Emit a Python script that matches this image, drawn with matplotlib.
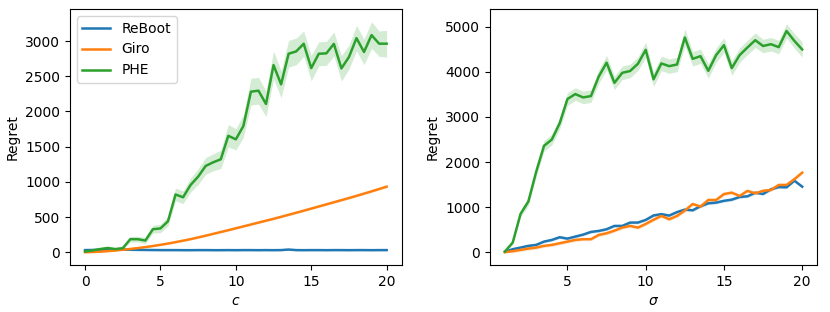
import numpy as np
import matplotlib
matplotlib.use("Agg")
import matplotlib.pyplot as plt

# ---------------- left panel data (x = c) ----------------
c_vals = [i * 0.5 for i in range(41)]
left_reboot = [30, 32, 35, 38, 40, 38, 35, 33, 32, 31, 30, 30, 30, 29, 29, 30, 30, 29, 29, 30,
               29, 30, 30, 29, 30, 29, 30, 38, 30, 29, 30, 30, 29, 30, 30, 29, 30, 30, 29, 30, 30]
left_reboot_err = [8] * 41
left_giro = [0, 3, 8, 15, 24, 35, 46, 59, 73, 88, 105, 123, 143, 164, 186, 210, 235, 261, 287, 313,
             340, 367, 394, 421, 448, 475, 503, 532, 561, 590, 620, 650, 680, 710, 740, 770, 801,
             833, 865, 898, 932]
left_giro_err = [3, 4, 5, 6, 6, 7, 7, 8, 8, 8, 9, 9, 9, 10, 10, 10, 10, 11, 11, 11,
                 12, 12, 12, 12, 13, 13, 13, 13, 14, 14, 14, 14, 15, 15, 15, 15, 16, 16, 16, 16, 17]
left_phe = [10, 25, 45, 60, 45, 57, 185, 185, 166, 327, 338, 440, 820, 781, 956, 1074, 1226, 1278,
            1320, 1654, 1604, 1793, 2281, 2295, 2106, 2659, 2385, 2820, 2853, 2962, 2616, 2820,
            2825, 2960, 2612, 2773, 3042, 2845, 3085, 2963, 2963]
left_phe_err = [5, 15, 20, 25, 20, 25, 40, 40, 45, 55, 60, 70, 90, 90, 100, 110, 120, 120, 130, 160,
                150, 160, 190, 190, 180, 200, 190, 190, 190, 180, 180, 170, 170, 170, 180, 170,
                180, 180, 190, 180, 190]

# ---------------- right panel data (x = sigma) ----------------
s_vals = [1 + i * 0.5 for i in range(39)]
right_reboot = [10, 66, 102, 140, 162, 235, 272, 332, 301, 346, 390, 450, 472, 509, 583, 583, 657,
                657, 716, 815, 845, 812, 890, 945, 930, 1019, 1085, 1100, 1140, 1166, 1225, 1240,
                1320, 1292, 1396, 1445, 1440, 1587, 1454]
right_reboot_err = [5] + [30] * 38
right_giro = [0, 22, 51, 80, 102, 140, 162, 199, 235, 272, 288, 288, 383, 420, 479, 546, 583, 546,
              627, 720, 805, 731, 805, 923, 1070, 1012, 1159, 1159, 1290, 1322, 1248, 1360, 1307,
              1362, 1381, 1492, 1492, 1620, 1765]
right_giro_err = [5] + [35] * 38
right_phe = [13, 213, 850, 1125, 1786, 2360, 2500, 2860, 3400, 3508, 3434, 3464, 3900, 4205, 3758,
             3980, 4020, 4180, 4490, 3836, 4188, 4128, 4165, 4764, 4290, 4350, 4024, 4372, 4593,
             4085, 4372, 4542, 4704, 4575, 4615, 4550, 4908, 4689, 4498]
right_phe_err = [10, 40, 70, 90, 110, 120, 120, 130, 140, 140, 140, 140, 150, 160, 150, 150, 150,
                 150, 170, 160, 160, 160, 160, 190, 160, 160, 160, 160, 160, 160, 160, 160, 160,
                 150, 150, 150, 160, 160, 170]

series_names = ["ReBoot", "Giro", "PHE"]
colors = ["#1f77b4", "#ff7f0e", "#2ca02c"]

fig = plt.figure(figsize=(8.3, 3.12), dpi=100)
ax1 = fig.add_axes([0.0843, 0.151, 0.3997, 0.820])
ax2 = fig.add_axes([0.5904, 0.151, 0.3940, 0.820])


def draw(ax, x, ys, errs):
    x = np.asarray(x)
    for name, col, y, e in zip(series_names, colors, ys, errs):
        y = np.asarray(y, float)
        e = np.asarray(e, float)
        ax.fill_between(x, y - e, y + e, color=col, alpha=0.2, linewidth=0)
        ax.plot(x, y, color=col, linewidth=1.8, label=name)


draw(ax1, c_vals, [left_reboot, left_giro, left_phe],
     [left_reboot_err, left_giro_err, left_phe_err])
draw(ax2, s_vals, [right_reboot, right_giro, right_phe],
     [right_reboot_err, right_giro_err, right_phe_err])

ax1.set_xlim(-1.0, 21.0)
ax1.set_ylim(-180, 3455)
ax1.set_xticks([0, 5, 10, 15, 20])
ax1.set_yticks([0, 500, 1000, 1500, 2000, 2500, 3000])
ax1.set_xlabel("$c$")
ax1.set_ylabel("Regret")
ax1.legend(loc="upper left")

ax2.set_xlim(0.05, 20.95)
ax2.set_ylim(-282, 5395)
ax2.set_xticks([5, 10, 15, 20])
ax2.set_yticks([0, 1000, 2000, 3000, 4000, 5000])
ax2.set_xlabel(r"$\sigma$")
ax2.set_ylabel("Regret")

fig.savefig("out.png", dpi=100)
